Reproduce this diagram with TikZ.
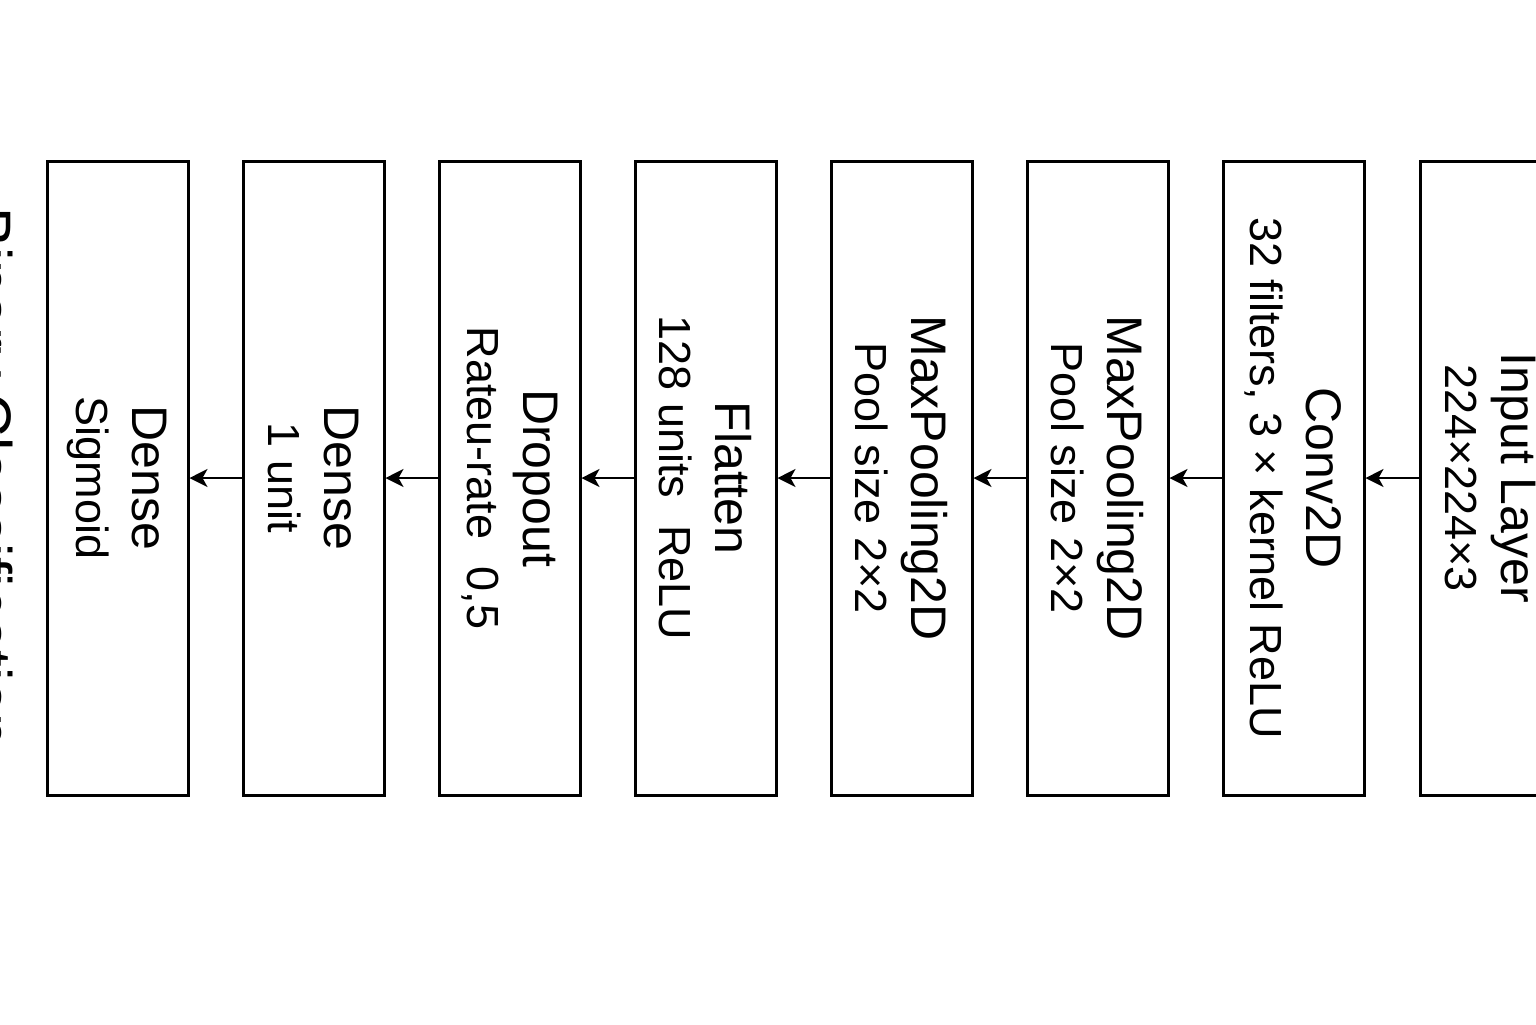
\documentclass[tikz,border=0pt]{standalone}
\usepackage{fontspec}
\setmainfont{Liberation Sans}
\usetikzlibrary{arrows.meta}
\newcommand{\lyr}[2]{{\fontsize{25}{28}\selectfont #1}\\#2}
\begin{document}
\begin{tikzpicture}[x=0.5pt,y=-0.5pt,
  layer/.style={draw=black, line width=1.5pt, rotate=-90,
    minimum width=317pt, minimum height=70.5pt, inner sep=0pt,
    align=center, text=black, font=\fontsize{22.5}{28}\selectfont},
  flow/.style={-{Stealth[length=9pt,width=9pt,inset=2.5pt]}, line width=1pt, draw=black}]
\useasboundingbox (0,0) rectangle (1536,1024);
\clip (0,0) rectangle (1536,1024);
\fill[white] (0,0) rectangle (1536,1024);

\node[rotate=-90, anchor=base west, font=\fontsize{30}{36}\selectfont] (title) at (-30,200) {Binary Classification};

\node[layer] (b1) at (117.5,478) {\lyr{Dense}{Sigmoid}};
\node[layer] (b2) at (313.5,478) {\lyr{Dense}{1 unit}};
\node[layer] (b3) at (509.5,478) {\lyr{Dropout}{Rateu-rate\hspace{0.6em}0,5}};
\node[layer] (b4) at (705.5,478) {\lyr{Flatten}{128 units\hspace{0.6em}ReLU}};
\node[layer] (b5) at (901.5,478) {\lyr{MaxPooling2D}{Pool size 2×2}};
\node[layer] (b6) at (1097.5,478) {\lyr{MaxPooling2D}{Pool size 2×2}};
\node[layer] (b7) at (1293.5,478) {\lyr{Conv2D}{32 filters, 3 × kernel ReLU}};
\node[layer] (b8) at (1490.5,478) {\lyr{Input Layer}{224×224×3}};

\draw[flow] (b2.south) -- (b1.north);
\draw[flow] (b3.south) -- (b2.north);
\draw[flow] (b4.south) -- (b3.north);
\draw[flow] (b5.south) -- (b4.north);
\draw[flow] (b6.south) -- (b5.north);
\draw[flow] (b7.south) -- (b6.north);
\draw[flow] (b8.south) -- (b7.north);
\end{tikzpicture}
\end{document}
